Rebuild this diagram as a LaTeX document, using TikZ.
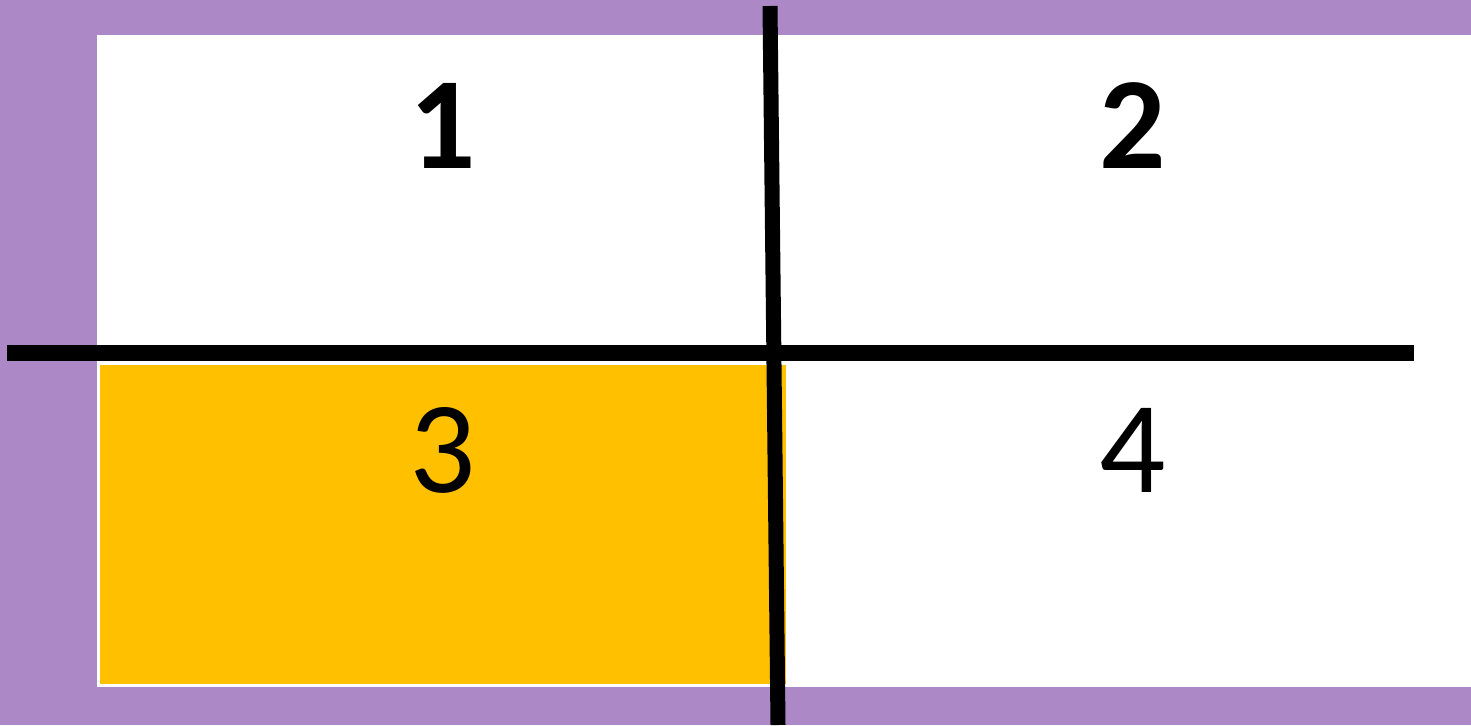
\documentclass[tikz,border=0pt]{standalone}
\usepackage{fontspec}
\setmainfont{Carlito}
\definecolor{fondo}{RGB}{173,136,198}
\definecolor{amarillo}{RGB}{255,192,0}
\tikzset{
  cifra/.style={anchor=base, inner sep=0pt, font=\fontsize{131}{131}\selectfont},
  corte/.style={line width=16pt, line cap=butt}
}
\begin{document}
\begin{tikzpicture}[x=1pt, y=-1pt]

        % ==========================================
        % Fondo y marco
        % ==========================================
        \useasboundingbox (0,0) rectangle (1471,725);
        \fill[fondo] (0,0) rectangle (1471,725);
        \fill[white] (97,35) rectangle (1471,687);

        % Cuadrante 3 resaltado
        \draw[white, line width=2pt, fill=amarillo] (99,364) rectangle (787,685);

        % ==========================================
        % Numeros de los cuadrantes
        % ==========================================
        \node[cifra] (uno)    at (443,168)  {\bfseries 1};
        \node[cifra] (dos)    at (1133,168) {\bfseries 2};
        \node[cifra] (tres)   at (443,492)  {3};
        \node[cifra] (cuatro) at (1133,492) {4};

        % ==========================================
        % Ejes de corte
        % ==========================================
        \coordinate (izq) at (7,353);
        \coordinate (der) at (1414,353);
        \coordinate (arriba) at (770,6);
        \coordinate (abajo) at (778,725);
        \draw[corte] (izq) -- (der);
        \draw[corte, line width=15pt] (arriba) -- (abajo);

\end{tikzpicture}
\end{document}
